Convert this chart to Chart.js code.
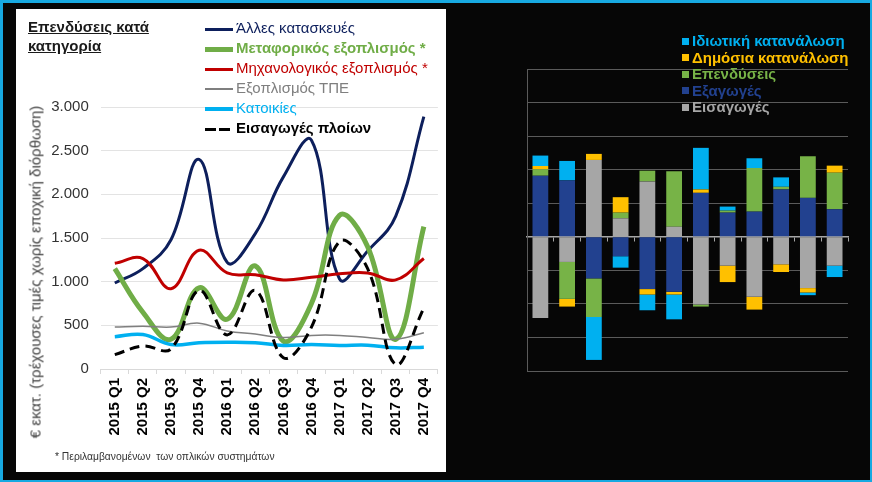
<!DOCTYPE html>
<html>
<head>
<meta charset="utf-8">
<script src="https://cdn.jsdelivr.net/npm/chart.js@4"></script>
<style>
  body { margin: 0; background: #000; font-family: "Liberation Sans", Arial, sans-serif; }
  .abs { position: absolute; }
  #frame { left: 0; top: 0; width: 872px; height: 482px; box-sizing: border-box; background: #060606;
           border: 3px solid #17a9e1; border-right-width: 2px; border-bottom-width: 2px; }
  #panel { left: 16px; top: 9px; width: 430px; height: 463px; background: #fff; }
  #title { left: 28px; top: 17px; font-size: 15px; line-height: 19px; font-weight: bold; color: #1a1a1a; text-decoration: underline; }
  #ytitle { left: 35px; top: 272px; font-size: 15px; color: #404040; white-space: nowrap;
            transform: translate(-50%, -50%) rotate(-90deg); }
  #note { left: 55px; top: 451px; font-size: 10.3px; color: #333; white-space: nowrap; }
  .lrow { height: 20px; line-height: 20px; font-size: 15px; white-space: nowrap; }
  .lrow span.s { display: inline-block; width: 28px; vertical-align: middle; margin-right: 3px; }
  .brow { height: 16.5px; line-height: 16.5px; font-size: 15px; font-weight: bold; white-space: nowrap; }
  .brow span.s { display: inline-block; width: 7px; height: 7px; vertical-align: middle; margin-right: 3px; margin-top: -2px; }
</style>
</head>
<body>
<div id="frame" class="abs"></div>
<div id="panel" class="abs"></div>
<canvas id="lineChart" class="abs" width="430" height="463" style="left:16px; top:9px;"></canvas>
<div id="title" class="abs">Επενδύσεις κατά<br>κατηγορία</div>
<div id="ytitle" class="abs">€ εκατ. (τρέχουσες τιμές χωρίς εποχική διόρθωση)</div>
<div id="note" class="abs">* Περιλαμβανομένων&nbsp; των οπλικών συστημάτων</div>
<div id="lineLegend" class="abs" style="left:205px; top:18px;"></div>
<canvas id="barChart" class="abs" width="331" height="312" style="left:522px; top:64px;"></canvas>
<div id="barLegend" class="abs" style="left:682px; top:33px;"></div>
<script>
const FONT = '"Liberation Sans", Arial, sans-serif';

// Επενδύσεις κατά κατηγορία (€ εκατ.)
const quarters = ['2015 Q1', '2015 Q2', '2015 Q3', '2015 Q4', '2016 Q1', '2016 Q2',
                  '2016 Q3', '2016 Q4', '2017 Q1', '2017 Q2', '2017 Q3', '2017 Q4'];
const otherConstruction = [985, 1150, 1480, 2400, 1220, 1550, 2200, 2620, 1030, 1350, 1750, 2890];
const transportEquipment = [1150, 650, 340, 930, 570, 1180, 320, 750, 1760, 1400, 340, 1630];
const machineryEquipment = [1210, 1265, 920, 1360, 1100, 1080, 1020, 1050, 1090, 1100, 1020, 1265];
const ictEquipment = [480, 490, 480, 525, 435, 400, 360, 385, 385, 360, 340, 415];
const dwellings = [370, 395, 280, 300, 305, 300, 270, 280, 270, 273, 242, 250];
const shipImports = [165, 262, 230, 900, 390, 900, 130, 480, 1460, 1150, 50, 700];
const yTickLabels = ['0', '500', '1.000', '1.500', '2.000', '2.500', '3.000'];

// Συμβολές στη μεταβολή (χωρίς κλίμακα)
const barCategories = quarters;
const exportsContrib = [1.82, 1.68, -1.24, -0.58, -1.56, -1.64, 1.31, 0.72, 0.75, 1.41, 1.16, 0.82];
const importsContrib = [-2.42, -0.75, 2.29, 0.55, 1.65, 0.30, -2.02, -0.86, -1.79, -0.82, -1.53, -0.86];
const investmentContrib = [0.19, -1.10, -1.15, 0.17, 0.32, 1.65, -0.06, 0.06, 1.30, 0.08, 1.24, 1.09];
const publicContrib = [0.10, -0.23, 0.18, 0.46, -0.16, -0.08, 0.10, -0.49, -0.38, -0.23, -0.13, 0.21];
const privateContrib = [0.31, 0.58, -1.28, -0.34, -0.47, -0.74, 1.24, 0.12, 0.29, 0.28, -0.08, -0.34];

// Line chart
const lineSeries = [
  { label: 'Άλλες κατασκευές', data: otherConstruction, color: '#0d1f5c', width: 3, bold: false },
  { label: 'Μεταφορικός εξοπλισμός *', data: transportEquipment, color: '#70ad47', width: 5, bold: true },
  { label: 'Μηχανολογικός  εξοπλισμός *', data: machineryEquipment, color: '#c00000', width: 3, bold: false },
  { label: 'Εξοπλισμός ΤΠΕ', data: ictEquipment, color: '#7f7f7f', width: 1.5, bold: false },
  { label: 'Κατοικίες', data: dwellings, color: '#00b0f0', width: 3.5, bold: false },
  { label: 'Εισαγωγές πλοίων', data: shipImports, color: '#000000', width: 3, bold: true, dash: [10, 6] }
];

new Chart(document.getElementById('lineChart'), {
  type: 'line',
  data: {
    labels: quarters,
    datasets: lineSeries.map((s, i) => ({
      label: s.label,
      data: s.data,
      borderColor: s.color,
      borderWidth: s.width,
      borderDash: s.dash || [],
      tension: 0.4,
      pointRadius: 0,
      fill: false,
      order: lineSeries.length - i
    }))
  },
  options: {
    responsive: false,
    animation: false,
    layout: { padding: { left: 0, top: 98, right: 3.75, bottom: 0 } },
    plugins: { legend: { display: false }, tooltip: { enabled: false } },
    scales: {
      x: {
        offset: true,
        grid: { drawOnChartArea: false, drawTicks: true, tickLength: 5, offset: true, color: '#d9d9d9' },
        border: { color: '#d9d9d9' },
        ticks: { autoSkip: false, minRotation: 90, maxRotation: 90, padding: 4, color: '#000',
                 font: { family: FONT, size: 15, weight: 'bold' } },
        afterFit: s => { s.height = 103; }
      },
      y: {
        min: 0,
        max: 3000,
        grid: { color: '#e3e3e3', drawTicks: false },
        border: { display: false },
        ticks: { stepSize: 500, padding: 12, color: '#333', font: { family: FONT, size: 15 },
                 callback: (v, i) => yTickLabels[i] },
        afterFit: s => { s.width = 84.75; }
      }
    }
  }
});

document.getElementById('lineLegend').innerHTML = lineSeries.map(s => {
  const sample = s.dash
    ? `<span class="s" style="height:3px;background:repeating-linear-gradient(90deg,${s.color} 0 11px,transparent 11px 14px)"></span>`
    : `<span class="s" style="height:${s.width}px;background:${s.color}"></span>`;
  return `<div class="lrow" style="color:${s.color};font-weight:${s.bold ? 'bold' : 'normal'}">${sample}${s.label}</div>`;
}).join('');

// Stacked bar chart
const barSeries = [
  { label: 'Εξαγωγές', data: exportsContrib, color: '#22418f' },
  { label: 'Εισαγωγές', data: importsContrib, color: '#a6a6a6' },
  { label: 'Επενδύσεις', data: investmentContrib, color: '#77b347' },
  { label: 'Δημόσια κατανάλωση', data: publicContrib, color: '#ffc000' },
  { label: 'Ιδιωτική κατανάλωση', data: privateContrib, color: '#00b0f0' }
];
const barLegendOrder = [4, 3, 2, 0, 1];

new Chart(document.getElementById('barChart'), {
  type: 'bar',
  data: {
    labels: barCategories,
    datasets: barSeries.map(s => ({
      label: s.label,
      data: s.data,
      backgroundColor: s.color,
      barPercentage: 0.59,
      categoryPercentage: 1
    }))
  },
  options: {
    responsive: false,
    animation: false,
    layout: { padding: 5 },
    plugins: { legend: { display: false }, tooltip: { enabled: false } },
    scales: {
      x: {
        stacked: true,
        position: { y: 0 },
        grid: { drawOnChartArea: false, drawTicks: true, tickLength: 4, offset: true, color: '#a6a6a6' },
        border: { color: '#a6a6a6', width: 1.5 },
        ticks: { display: false }
      },
      y: {
        stacked: true,
        min: -4,
        max: 5,
        grid: { color: '#5a5a5a', drawTicks: false },
        border: { color: '#5a5a5a' },
        ticks: { display: false, stepSize: 1 }
      }
    }
  }
});

document.getElementById('barLegend').innerHTML = barLegendOrder.map(i => barSeries[i]).map(s =>
  `<div class="brow" style="color:${s.color}"><span class="s" style="background:${s.color}"></span>${s.label}</div>`
).join('');
</script>
</body>
</html>
